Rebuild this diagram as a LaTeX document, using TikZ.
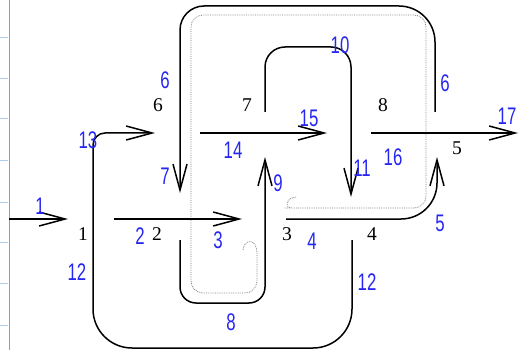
\documentclass[tikz,border=0pt]{standalone}
\usepackage{fontspec}
\setmainfont{Liberation Serif}
\newfontfamily\handfont[FakeStretch=0.7]{Liberation Sans}
\usetikzlibrary{arrows.meta}

\definecolor{ink}{rgb}{0.15, 0.15, 0.95}
\definecolor{margin}{rgb}{1, 0.45, 0.45}
\definecolor{ruling}{rgb}{0.68, 0.8, 0.93}

\tikzset{
  flow/.style={line width=1.5pt},
  arrowed/.style={-{Straight Barb[length=26pt, width=14pt]}},
  trace/.style={densely dotted, gray, line width=0.8pt},
  port/.style={font=\fontsize{19.5}{19.5}\selectfont, inner sep=0pt},
  tag/.style={text=ink, font=\handfont\fontsize{24}{24}\selectfont, inner sep=0pt}
}

\begin{document}
\begin{tikzpicture}[x=1pt, y=-1pt]

\useasboundingbox (0,0) rectangle (519,350);

% Notebook paper
\draw[margin, line width=0.8pt] (9,0) -- (9,350);
\foreach \y in {37,78,118,160,202,242,283,325}
  \draw[ruling, line width=0.8pt] (0,\y) -- (8,\y);

% Connector ends
\coordinate (in1) at (9,219);
\coordinate (out1) at (68,219);
\coordinate (in2) at (114,219);
\coordinate (out3) at (242,219);
\coordinate (in4) at (286,219);
\coordinate (out5) at (437,157);
\coordinate (in12) at (352,240);
\coordinate (out13) at (155,133);
\coordinate (in6) at (435,112);
\coordinate (out7) at (180,193);
\coordinate (in8) at (180,240);
\coordinate (out9) at (265,157);
\coordinate (in10) at (265,112);
\coordinate (out11) at (351,197);
\coordinate (in14) at (200,133);
\coordinate (out15) at (327,133);
\coordinate (in16) at (371,133);
\coordinate (out17) at (518,133);

% Port numbers
\node[port] (p1) at (83,234) {1};
\node[port] (p2) at (157,234) {2};
\node[port] (p3) at (287,234) {3};
\node[port] (p4) at (372,234) {4};
\node[port] (p5) at (457,148) {5};
\node[port] (p6) at (158,105) {6};
\node[port] (p7) at (247,105) {7};
\node[port] (p8) at (383,105) {8};

% Dotted trace
\draw[trace] (243,250) .. controls (244,239) and (257,237) .. (257,254) -- (257,260)
  [rounded corners=12pt] -- (257,293) -- (191,293) -- (191,15) -- (426,15)
  -- (426,208) -- (296,208) [sharp corners] -- (292,208)
  .. controls (284,208) and (286,197) .. (297,197);

% Straight connectors
\draw[flow, arrowed] (in1) -- (out1);
\draw[flow, arrowed] (in2) -- (out3);
\draw[flow, arrowed] (in14) -- (out15);
\draw[flow, arrowed] (in16) -- (out17);

% Bent connectors
\draw[flow, arrowed, rounded corners=36pt] (in4) -| (out5);
\draw[flow, arrowed] (in12) [rounded corners=39pt] -- (in12 |- 0,348) -- (93,348)
  [rounded corners=12pt] -- (93,133) -- (out13);
\draw[flow, arrowed] (in6) [rounded corners=36pt] -- (in6 |- 0,6)
  [rounded corners=24pt] -- (out7 |- 0,6) -- (out7);
\draw[flow, arrowed, rounded corners=16pt] (in8) -- (in8 |- 0,303) -- (out9 |- 0,303) -- (out9);
\draw[flow, arrowed, rounded corners=20pt] (in10) -- (in10 |- 0,47) -- (out11 |- 0,47) -- (out11);

% Handwritten edge numbers
\node[tag] (t1) at (40,206) {1};
\node[tag] (t2) at (140,236) {2};
\node[tag] (t3) at (218,240) {3};
\node[tag] (t4) at (312,241) {4};
\node[tag] (t5) at (440,223) {5};
\node[tag] (t6a) at (165,80) {6};
\node[tag] (t6b) at (445,83) {6};
\node[tag] (t7) at (165,176) {7};
\node[tag] (t8) at (231,322) {8};
\node[tag] (t9) at (278,183) {9};
\node[tag] (t10) at (340,45) {10};
\node[tag] (t11) at (362,168) {11};
\node[tag] (t12a) at (77,272) {12};
\node[tag] (t12b) at (367,282) {12};
\node[tag] (t13) at (88,140) {13};
\node[tag] (t14) at (233,150) {14};
\node[tag] (t15) at (309,118) {15};
\node[tag] (t16) at (393,157) {16};
\node[tag] (t17) at (507,116) {17};

\end{tikzpicture}
\end{document}
